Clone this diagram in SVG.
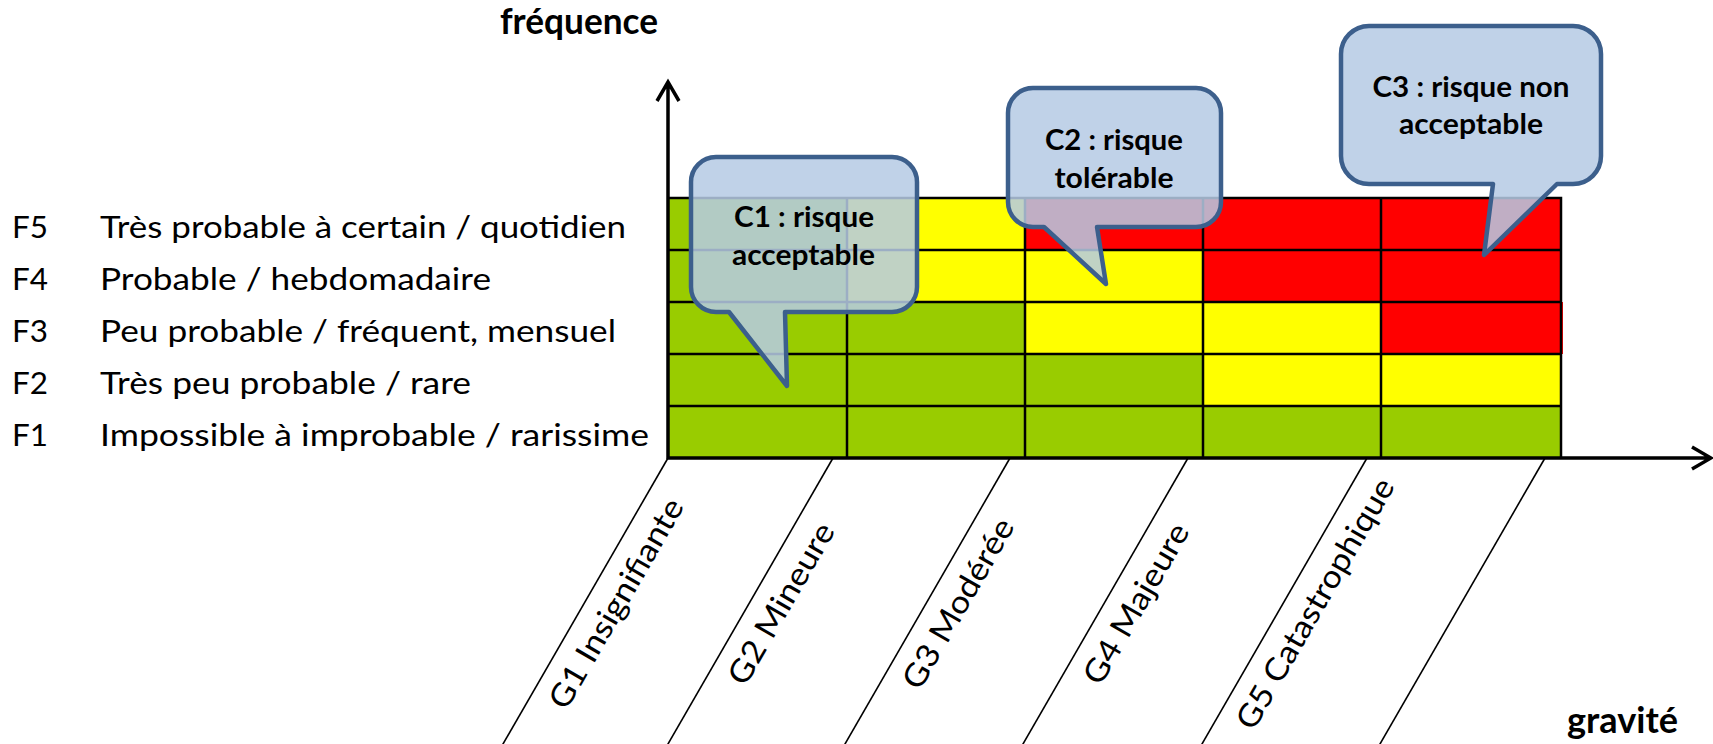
<svg xmlns="http://www.w3.org/2000/svg" width="1713" height="744" viewBox="0 0 1713 744">
<style>
.g{fill:#99CC00}.y{fill:#FFFF00}.r{fill:#FF0000}
.grid{stroke:#000;stroke-width:2.5;fill:none}
.axis{stroke:#000;stroke-width:3.5;fill:none;stroke-linejoin:miter}
.diag{stroke:#000;stroke-width:1.6}
.lbl{font-family:Lato,"Open Sans","Liberation Sans",sans-serif;font-size:31.5px;fill:#000}
.ttl{font-family:Lato,"Open Sans","Liberation Sans",sans-serif;font-size:37px;font-weight:bold;fill:#000}
.bub{fill:#B6CBE4;fill-opacity:0.86;stroke:#3C5F8C;stroke-width:4.5;stroke-linejoin:round}
.bt{font-family:Lato,"Open Sans","Liberation Sans",sans-serif;font-size:28px;font-weight:bold;fill:#000;text-anchor:middle}
.gl{font-family:Lato,"Open Sans","Liberation Sans",sans-serif;font-size:31.5px;fill:#000;text-anchor:middle}
</style>
<rect width="1713" height="744" fill="#fff"/>

<g id="matrix">
  <!-- F5 -->
  <rect class="g" x="669" y="198" width="178" height="52"/>
  <rect class="y" x="847" y="198" width="178" height="52"/>
  <rect class="r" x="1025" y="198" width="178" height="52"/>
  <rect class="r" x="1203" y="198" width="178" height="52"/>
  <rect class="r" x="1381" y="198" width="180" height="52"/>
  <!-- F4 -->
  <rect class="g" x="669" y="250" width="178" height="52"/>
  <rect class="y" x="847" y="250" width="178" height="52"/>
  <rect class="y" x="1025" y="250" width="178" height="52"/>
  <rect class="r" x="1203" y="250" width="178" height="52"/>
  <rect class="r" x="1381" y="250" width="180" height="52"/>
  <!-- F3 -->
  <rect class="g" x="669" y="302" width="178" height="52"/>
  <rect class="g" x="847" y="302" width="178" height="52"/>
  <rect class="y" x="1025" y="302" width="178" height="52"/>
  <rect class="y" x="1203" y="302" width="178" height="52"/>
  <rect class="r" x="1381" y="302" width="182" height="52"/>
  <!-- F2 -->
  <rect class="g" x="669" y="354" width="178" height="52"/>
  <rect class="g" x="847" y="354" width="178" height="52"/>
  <rect class="g" x="1025" y="354" width="178" height="52"/>
  <rect class="y" x="1203" y="354" width="178" height="52"/>
  <rect class="y" x="1381" y="354" width="180" height="52"/>
  <!-- F1 -->
  <rect class="g" x="669" y="406" width="178" height="52"/>
  <rect class="g" x="847" y="406" width="178" height="52"/>
  <rect class="g" x="1025" y="406" width="178" height="52"/>
  <rect class="g" x="1203" y="406" width="178" height="52"/>
  <rect class="g" x="1381" y="406" width="180" height="52"/>
  <path class="grid" d="M669,198H1561V458M669,250H1561M669,302H1561M669,354H1561M669,406H1561M847,198V458M1025,198V458M1203,198V458M1381,198V458"/>
</g>

<g id="axes">
  <path class="axis" d="M668,459V84M657,101L668,82L679,101"/>
  <path class="axis" d="M667,458H1709M1692,447L1711,458L1692,469"/>
  <text class="ttl" x="500" y="34" textLength="158" lengthAdjust="spacingAndGlyphs">fréquence</text>
  <text class="ttl" x="1567" y="733" textLength="111" lengthAdjust="spacingAndGlyphs">gravité</text>
</g>

<g id="connectors">
  <line class="diag" x1="668" y1="458" x2="502.4" y2="745"/>
  <line class="diag" x1="833" y1="458" x2="667.4" y2="745"/>
  <line class="diag" x1="1010" y1="458" x2="844.4" y2="745"/>
  <line class="diag" x1="1188" y1="458" x2="1022.4" y2="745"/>
  <line class="diag" x1="1367" y1="458" x2="1201.4" y2="745"/>
  <line class="diag" x1="1545" y1="458" x2="1379.4" y2="745"/>
</g>

<g id="freq-labels">
  <g id="F5"><text class="lbl" x="12" y="237.5" textLength="36" lengthAdjust="spacingAndGlyphs">F5</text><text class="lbl" x="100" y="237.5" textLength="526" lengthAdjust="spacingAndGlyphs">Très probable à certain / quotidien</text></g>
  <g id="F4"><text class="lbl" x="12" y="289.5" textLength="36" lengthAdjust="spacingAndGlyphs">F4</text><text class="lbl" x="100" y="289.5" textLength="391" lengthAdjust="spacingAndGlyphs">Probable / hebdomadaire</text></g>
  <g id="F3"><text class="lbl" x="12" y="341.5" textLength="36" lengthAdjust="spacingAndGlyphs">F3</text><text class="lbl" x="100" y="341.5" textLength="516" lengthAdjust="spacingAndGlyphs">Peu probable / fréquent, mensuel</text></g>
  <g id="F2"><text class="lbl" x="12" y="393.5" textLength="36" lengthAdjust="spacingAndGlyphs">F2</text><text class="lbl" x="100" y="393.5" textLength="371" lengthAdjust="spacingAndGlyphs">Très peu probable / rare</text></g>
  <g id="F1"><text class="lbl" x="12" y="445.5" textLength="36" lengthAdjust="spacingAndGlyphs">F1</text><text class="lbl" x="100" y="445.5" textLength="549" lengthAdjust="spacingAndGlyphs">Impossible à improbable / rarissime</text></g>
</g>

<g id="grav-labels">
  <g id="G1"><text class="gl" transform="translate(625.5,609) rotate(-60)" textLength="237" lengthAdjust="spacingAndGlyphs">G1 Insignifiante</text></g>
  <g id="G2"><text class="gl" transform="translate(790.5,609) rotate(-60)" textLength="181" lengthAdjust="spacingAndGlyphs">G2 Mineure</text></g>
  <g id="G3"><text class="gl" transform="translate(967.5,609) rotate(-60)" textLength="191" lengthAdjust="spacingAndGlyphs">G3 Modérée</text></g>
  <g id="G4"><text class="gl" transform="translate(1145.5,609) rotate(-60)" textLength="180" lengthAdjust="spacingAndGlyphs">G4 Majeure</text></g>
  <g id="G5"><text class="gl" transform="translate(1324.5,609) rotate(-60)" textLength="284" lengthAdjust="spacingAndGlyphs">G5 Catastrophique</text></g>
</g>

<g id="C1">
  <path class="bub" d="M716,157H892A25,25 0 0 1 917,182V287A25,25 0 0 1 892,312H785L787,386L729,312H716A25,25 0 0 1 691,287V182A25,25 0 0 1 716,157Z"/>
  <text class="bt" x="804" y="227" textLength="140" lengthAdjust="spacingAndGlyphs">C1 : risque</text>
  <text class="bt" x="803.5" y="265" textLength="143" lengthAdjust="spacingAndGlyphs">acceptable</text>
</g>
<g id="C2">
  <path class="bub" d="M1033,88H1196A25,25 0 0 1 1221,113V202A25,25 0 0 1 1196,227H1097L1106,284L1044,227H1033A25,25 0 0 1 1008,202V113A25,25 0 0 1 1033,88Z"/>
  <text class="bt" x="1114" y="150" textLength="138" lengthAdjust="spacingAndGlyphs">C2 : risque</text>
  <text class="bt" x="1114" y="188" textLength="119" lengthAdjust="spacingAndGlyphs">tolérable</text>
</g>
<g id="C3">
  <path class="bub" d="M1369,26H1573A28,28 0 0 1 1601,54V156A28,28 0 0 1 1573,184H1557L1484,255L1493,184H1369A28,28 0 0 1 1341,156V54A28,28 0 0 1 1369,26Z"/>
  <text class="bt" x="1471" y="97" textLength="197" lengthAdjust="spacingAndGlyphs">C3 : risque non</text>
  <text class="bt" x="1471" y="133.5" textLength="144" lengthAdjust="spacingAndGlyphs">acceptable</text>
</g>
</svg>
